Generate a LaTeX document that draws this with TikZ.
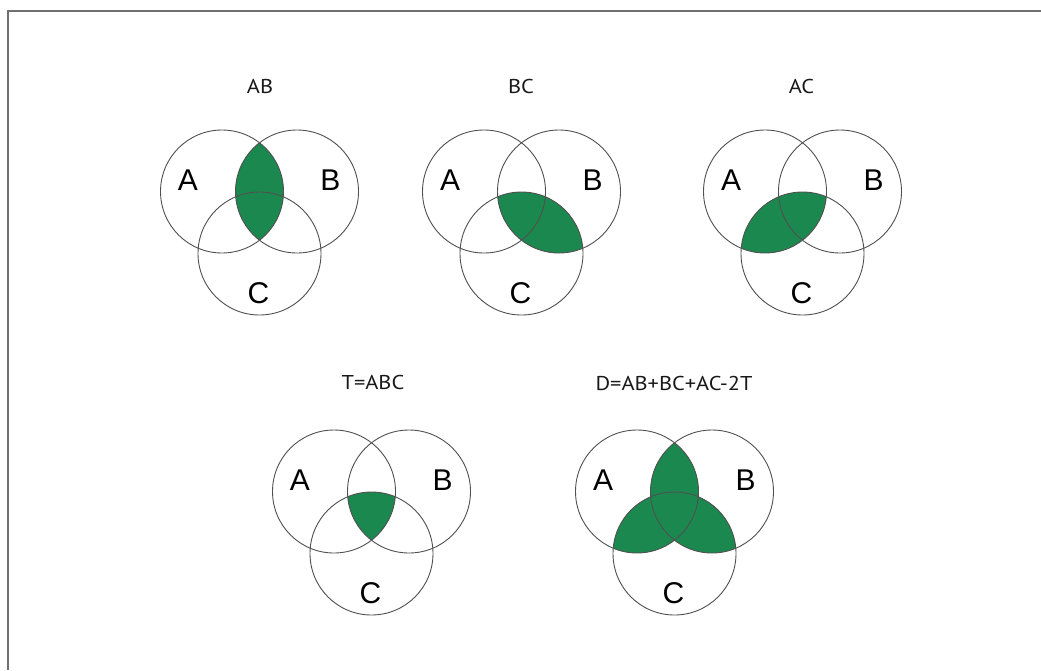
\documentclass[tikz,border=0pt]{standalone}
\usepackage{fontspec}
\setmainfont{Liberation Sans}
\newfontfamily\titlefont[FakeStretch=1.12]{PT Sans}
\definecolor{vgreen}{RGB}{27,137,79}
\definecolor{framegray}{RGB}{112,112,112}
\definecolor{linegray}{RGB}{80,80,80}
\tikzset{
  vcircle/.style={draw=linegray, line width=0.9pt},
  setlabel/.style={font=\fontsize{30}{30}\selectfont, inner sep=0pt, text=black},
  vtitle/.style={font=\titlefont\fontsize{20}{20}\selectfont, inner sep=0pt, text=black!90},
  greenfill/.style={fill=vgreen},
  venn/.pic={
    \draw[vcircle] (0,0) circle[radius=61.5pt];
    \draw[vcircle] (75,0) circle[radius=61.5pt];
    \draw[vcircle] (37.5,62) circle[radius=61.5pt];
    \node[setlabel] (-a) at (-34,-11) {A};
    \node[setlabel] (-b) at (108.5,-11) {B};
    \node[setlabel] (-c) at (36.5,102) {C};
  }
}
\begin{document}
\begin{tikzpicture}[x=1pt,y=-1pt]
\useasboundingbox (0,0) rectangle (1041,670);
\fill[white] (0,0) rectangle (1041,670);
\draw[framegray, line width=2pt] (8,670) -- (8,11) -- (1041,11);

% Diagram 1: AB
\begin{scope}[shift={(222,191.5)}]
  \begin{scope}\clip (0,0) circle[radius=61.5pt]; \fill[greenfill] (75,0) circle[radius=61.5pt];\end{scope}
  \pic (d1) at (0,0) {venn};
  \node[vtitle] (t1) at (38,-105.5) {AB};
\end{scope}

% Diagram 2: BC
\begin{scope}[shift={(484,191.5)}]
  \begin{scope}\clip (75,0) circle[radius=61.5pt]; \fill[greenfill] (37.5,62) circle[radius=61.5pt];\end{scope}
  \pic (d2) at (0,0) {venn};
  \node[vtitle] (t2) at (37,-105.5) {BC};
\end{scope}

% Diagram 3: AC
\begin{scope}[shift={(765,191.5)}]
  \begin{scope}\clip (0,0) circle[radius=61.5pt]; \fill[greenfill] (37.5,62) circle[radius=61.5pt];\end{scope}
  \pic (d3) at (0,0) {venn};
  \node[vtitle] (t3) at (36.5,-105.5) {AC};
\end{scope}

% Diagram 4: T=ABC
\begin{scope}[shift={(334,491.5)}]
  \begin{scope}\clip (0,0) circle[radius=61.5pt]; \clip (75,0) circle[radius=61.5pt]; \fill[greenfill] (37.5,62) circle[radius=61.5pt];\end{scope}
  \pic (d4) at (0,0) {venn};
  \node[vtitle] (t4) at (39,-109.5) {T=ABC};
\end{scope}

% Diagram 5: D
\begin{scope}[shift={(637,491.5)}]
  \begin{scope}\clip (0,0) circle[radius=61.5pt]; \fill[greenfill] (75,0) circle[radius=61.5pt];\end{scope}
  \begin{scope}\clip (75,0) circle[radius=61.5pt]; \fill[greenfill] (37.5,62) circle[radius=61.5pt];\end{scope}
  \begin{scope}\clip (0,0) circle[radius=61.5pt]; \fill[greenfill] (37.5,62) circle[radius=61.5pt];\end{scope}
  \pic (d5) at (0,0) {venn};
  \node[vtitle] (t5) at (37,-108.5) {D=AB+BC+AC-2T};
\end{scope}
\end{tikzpicture}
\end{document}
